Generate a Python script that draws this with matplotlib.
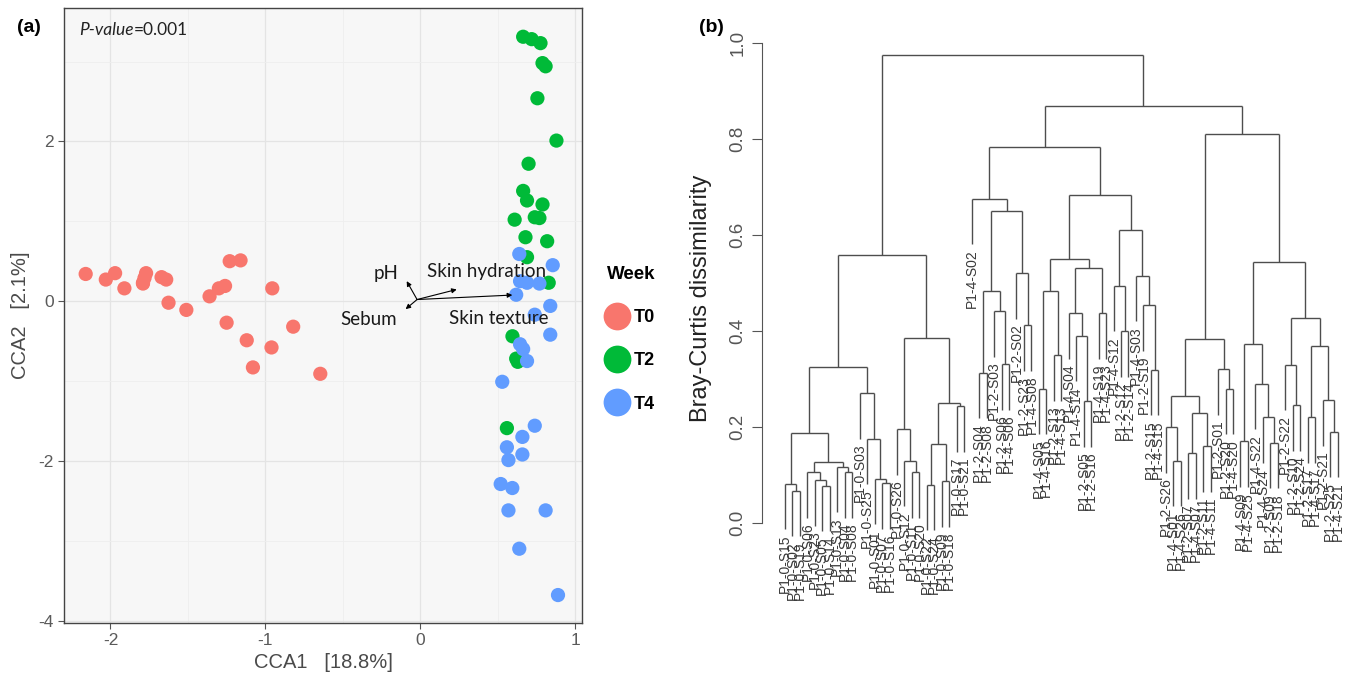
import matplotlib
matplotlib.use('Agg')  # no display
import matplotlib.pyplot as plt
from matplotlib.lines import Line2D

# ----------------------------
# DATA  (a) CCA ordination
# ----------------------------
weeks = ['T0', 'T2', 'T4']
week_colors = ['#F8766D', '#00BA38', '#619CFF']

t0_x = [-2.16, -2.03, -1.97, -1.91, -1.79, -1.77, -1.78, -1.79, -1.67, -1.64, -1.625, -1.51,
        -1.36, -1.30, -1.26, -1.23, -1.16, -1.25, -1.12, -0.955, -0.96, -1.08, -0.82, -0.645]
t0_y = [0.34, 0.27, 0.35, 0.16, 0.23, 0.35, 0.29, 0.22, 0.30, 0.27, -0.02, -0.11,
        0.06, 0.16, 0.19, 0.50, 0.51, -0.27, -0.49, 0.16, -0.58, -0.83, -0.32, -0.91]

t2_x = [0.665, 0.72, 0.777, 0.79, 0.81, 0.757, 0.88, 0.70, 0.665, 0.69, 0.79, 0.61,
        0.74, 0.77, 0.68, 0.82, 0.69, 0.83, 0.596, 0.62, 0.63, 0.56]
t2_y = [3.31, 3.28, 3.23, 2.98, 2.94, 2.54, 2.01, 1.72, 1.38, 1.26, 1.21, 1.02,
        1.05, 1.04, 0.80, 0.75, 0.55, 0.23, -0.44, -0.72, -0.76, -1.59]

t4_x = [0.64, 0.856, 0.645, 0.69, 0.77, 0.62, 0.84, 0.74, 0.84, 0.645, 0.665, 0.69,
        0.53, 0.74, 0.66, 0.56, 0.66, 0.57, 0.52, 0.595, 0.57, 0.81, 0.64, 0.89]
t4_y = [0.59, 0.45, 0.25, 0.23, 0.22, 0.08, -0.06, -0.17, -0.42, -0.54, -0.60, -0.75,
        -1.01, -1.56, -1.70, -1.83, -1.92, -1.99, -2.29, -2.34, -2.62, -2.62, -3.10, -3.68]

env_names = ['pH', 'Sebum', 'Skin hydration', 'Skin texture']
env_x = [-0.087, -0.094, 0.236, 0.595]
env_y = [0.25, -0.10, 0.146, 0.076]
env_lab_x = [-0.22, -0.33, 0.43, 0.51]
env_lab_y = [0.35, -0.23, 0.37, -0.22]

# ----------------------------
# DATA  (b) Bray-Curtis clustering  (height, left, right)
# ----------------------------
def N(h, a, b):
    return (h, a, b)

t0_left = N(0.325,
            N(0.188,
              N(0.082, 'P1-0-S15', N(0.067, 'P1-0-S02', 'P1-0-S19')),
              N(0.128,
                N(0.106, 'P1-0-S06', N(0.089, 'P1-0-S23', N(0.078, 'P1-0-S05', 'P1-0-S14'))),
                N(0.117, 'P1-0-S13', N(0.106, 'P1-0-S04', 'P1-0-S08')))),
            N(0.27, 'P1-0-S03',
              N(0.176, 'P1-0-S25', N(0.092, 'P1-0-S01', N(0.083, 'P1-0-S07', 'P1-0-S16')))))
t0_right = N(0.385,
             N(0.196, 'P1-0-S26', N(0.13, 'P1-0-S12', N(0.106, 'P1-0-S11', 'P1-0-S20'))),
             N(0.25,
               N(0.165, N(0.08, 'P1-0-S22', 'P1-0-S24'), N(0.087, 'P1-0-S09', 'P1-0-S18')),
               N(0.243, 'P1-0-S17', 'P1-0-S21')))
grp_a = N(0.676, 'P1-4-S02',
          N(0.649,
            N(0.484, N(0.313, 'P1-2-S04', 'P1-2-S08'),
              N(0.441, 'P1-2-S03', N(0.331, 'P1-2-S06', 'P1-4-S06'))),
            N(0.521, 'P1-2-S02', N(0.412, 'P1-2-S23', 'P1-4-S08'))))
grp_b = N(0.683,
          N(0.551,
            N(0.484, N(0.28, 'P1-4-S05', 'P1-4-S16'), N(0.35, 'P1-2-S13', 'P1-4-S13')),
            N(0.532,
              N(0.4375, 'P1-4-S04', N(0.39, 'P1-4-S14', N(0.254, 'P1-2-S05', 'P1-2-S16'))),
              N(0.4375, 'P1-4-S19', 'P1-4-S23'))),
          N(0.61,
            N(0.494, 'P1-4-S12', N(0.40, 'P1-2-S12', 'P1-2-S14')),
            N(0.515, 'P1-4-S03', N(0.454, 'P1-2-S19', N(0.319, 'P1-2-S15', 'P1-4-S15')))))
grp_c = N(0.81,
          N(0.383,
            N(0.265, N(0.20, 'P1-2-S26', N(0.13, 'P1-4-S01', 'P1-4-S26')),
              N(0.23, N(0.146, 'P1-2-S07', 'P1-4-S07'), N(0.16, 'P1-2-S11', 'P1-4-S11'))),
            N(0.32, 'P1-2-S01', N(0.28, 'P1-2-S20', 'P1-4-S20'))),
          N(0.544,
            N(0.373, N(0.17, 'P1-4-S09', 'P1-4-S25'),
              N(0.29, 'P1-4-S22', N(0.22, 'P1-4-S24', N(0.167, 'P1-2-S09', 'P1-2-S18')))),
            N(0.427,
              N(0.33, 'P1-2-S22', N(0.246, 'P1-2-S10', 'P1-2-S24')),
              N(0.369, N(0.22, 'P1-2-S17', 'P1-4-S17'),
                N(0.256, 'P1-2-S21', N(0.19, 'P1-2-S25', 'P1-4-S21'))))))
tree = N(0.976, N(0.559, t0_left, t0_right), N(0.868, N(0.784, grp_a, grp_b), grp_c))
hang = 0.095

# ----------------------------
# FIGURE
# ----------------------------
W, H = 1349, 679
fig = plt.figure(figsize=(W / 100, H / 100), dpi=100)


def px_axes(l, t, r, b):
    return fig.add_axes([l / W, 1 - b / H, (r - l) / W, (b - t) / H])


# ---- (a) ----
ax = px_axes(64, 8, 582, 623)
ax.set_facecolor('#F7F7F7')
ax.set_xlim(-2.30, 1.045)
ax.set_ylim(-4.03, 3.67)
ax.set_xticks([-2, -1, 0, 1])
ax.set_yticks([-4, -2, 0, 2])
ax.set_xticks([-1.5, -0.5, 0.5], minor=True)
ax.set_yticks([-3, -1, 1, 3], minor=True)
ax.grid(which='major', color='#E4E4E4', lw=0.9)
ax.grid(which='minor', color='#EEEEEE', lw=0.6)
ax.set_axisbelow(True)
ax.tick_params(which='minor', length=0)
ax.tick_params(which='major', length=4, color='#555555', labelcolor='#5A5A5A', labelsize=12.5)
for sp in ax.spines.values():
    sp.set_color('#444444')
    sp.set_linewidth(1.0)
ax.set_xticklabels(['-2', '-1', '0', '1'], family='Liberation Sans')
ax.set_yticklabels(['-4', '-2', '0', '2'], family='Liberation Sans')
ax.set_xlabel('CCA1   [18.8%]', family='Liberation Sans', fontsize=14.5, color='#4A4A4A', labelpad=3)
ax.set_ylabel('CCA2   [2.1%]', family='Liberation Sans', fontsize=14.5, color='#4A4A4A', labelpad=6)

for xs, ys, c in zip([t0_x, t2_x, t4_x], [t0_y, t2_y, t4_y], week_colors):
    ax.scatter(xs, ys, s=105, color=c, edgecolors='none', zorder=3)

ox, oy = -0.02, 0.02
for name, ex, ey, lx, ly in zip(env_names, env_x, env_y, env_lab_x, env_lab_y):
    ax.annotate('', xy=(ex, ey), xytext=(ox, oy),
                arrowprops=dict(arrowstyle='-|>', lw=0.8, color='black',
                                mutation_scale=7, shrinkA=0, shrinkB=0), zorder=4)
    ax.text(lx, ly, name, family='Lato', fontsize=13.5, ha='center', va='center', zorder=5,
            color='#1A1A1A')

pt = ax.text(0.029, 0.965, 'P-value', transform=ax.transAxes, family='Lato', style='italic',
             fontsize=12.5, ha='left', va='center', color='#222222')
ax.annotate('=0.001', xy=(1, 0), xycoords=pt, family='Lato', fontsize=12.5,
            ha='left', va='bottom', color='#222222')

handles = [Line2D([], [], marker='o', ls='', markersize=20, markerfacecolor=c,
                  markeredgecolor='none') for c in week_colors]
leg = ax.legend(handles, weeks, title='Week', loc='upper left',
                bbox_to_anchor=(598 / W, 1 - 257 / H), bbox_transform=fig.transFigure,
                frameon=False, prop={'weight': 'bold', 'size': 13, 'family': 'Liberation Sans'},
                title_fontproperties={'weight': 'bold', 'size': 13.5, 'family': 'Liberation Sans'},
                labelspacing=1.45, handletextpad=0.4, handlelength=1.1, borderpad=0,
                alignment='left')

fig.text(17 / W, 1 - 27 / H, '(a)', family='Liberation Sans', weight='bold', fontsize=14,
         ha='left', va='center')
fig.text(699 / W, 1 - 27 / H, '(b)', family='Liberation Sans', weight='bold', fontsize=14,
         ha='left', va='center')

# ---- (b) ----
bx = px_axes(762, 30, 1345, 640)
y_top = (523 - 30) / 480
y_bot = (523 - 640) / 480
bx.set_ylim(y_bot, y_top)
bx.set_xlim(-3.08, 75.0)
for s in ['top', 'right', 'bottom']:
    bx.spines[s].set_visible(False)
bx.spines['left'].set_bounds(0, 1)
bx.spines['left'].set_color('#555555')
bx.set_xticks([])
bx.set_yticks([0, 0.2, 0.4, 0.6, 0.8, 1.0])
bx.set_yticklabels(['0.0', '0.2', '0.4', '0.6', '0.8', '1.0'], rotation=90, va='center',
                   family='Liberation Sans', fontsize=13.5, color='#555555')
bx.tick_params(axis='y', length=7, color='#555555', pad=4)
bx.set_ylabel('Bray-Curtis dissimilarity', family='Liberation Sans', fontsize=17, color='#222222')
bx.yaxis.set_label_coords((712 - 762) / 583, (640 - 298) / 610)

counter = [0]
line_kw = dict(color='#4D4D4D', lw=1.0, solid_capstyle='butt')


def draw(node):
    if isinstance(node, str):
        x = counter[0]
        counter[0] += 1
        return x, None, node
    h, a, b = node
    xa, ha_, la = draw(a)
    xb, hb, lb = draw(b)
    for xc, hc, lab in ((xa, ha_, la), (xb, hb, lb)):
        if hc is None:
            bottom = h - hang
            bx.plot([xc, xc], [h, bottom], **line_kw)
            bx.text(xc, bottom - 0.01, lab, rotation=90, ha='center', va='top',
                    family='Liberation Sans', fontsize=10, color='#3A3A3A', clip_on=False)
        else:
            bx.plot([xc, xc], [h, hc], **line_kw)
    bx.plot([xa, xb], [h, h], **line_kw)
    return (xa + xb) / 2, h, None


draw(tree)

fig.savefig('out.png', dpi=100)
